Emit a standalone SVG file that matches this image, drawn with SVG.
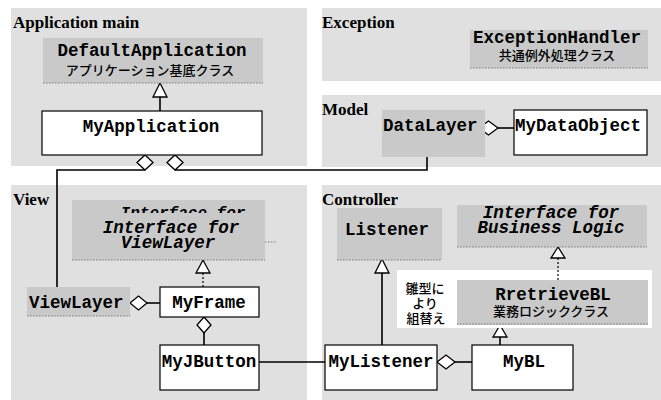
<svg xmlns="http://www.w3.org/2000/svg" width="661" height="400" viewBox="0 0 661 400">
<style>
.panel{fill:#e0e0e0}
.gbox{fill:#c9c9c9}
.shadow{stroke:#7a7a7a;stroke-width:1.2;stroke-dasharray:1.5,1.5;fill:none}
.wbox{fill:#ffffff;stroke:#000;stroke-width:1.2}
.lbl{font-family:"Liberation Serif","Times New Roman",serif;font-weight:bold;font-size:17px;fill:#000}
.cls{font-family:"Liberation Mono","Courier New",monospace;font-weight:bold;font-size:17.5px;fill:#000}
.itl{font-family:"Liberation Mono","Courier New",monospace;font-style:italic;font-weight:bold;font-size:17.5px;fill:#000}
.jp{font-family:"Noto Sans CJK JP",sans-serif;font-weight:500;font-size:13px;fill:#000}
.ln{stroke:#000;stroke-width:1.6;fill:none}
.dot{stroke:#000;stroke-width:1.2;stroke-dasharray:2,2;fill:none}
.tri{fill:#fff;stroke:#000;stroke-width:1.3}
.dia{fill:#fff;stroke:#000;stroke-width:1.3}
</style>
<defs>
<clipPath id="cut"><rect x="60" y="200" width="220" height="13"/></clipPath>
</defs>
<rect width="661" height="400" fill="#fff"/>
<g id="panels">
<rect class="panel" x="11" y="8" width="296" height="158"/>
<rect class="panel" x="322" y="8" width="339" height="73"/>
<rect class="panel" x="322" y="95" width="339" height="72"/>
<rect class="panel" x="11" y="185" width="296" height="215"/>
<rect class="panel" x="322" y="185" width="339" height="215"/>
<text class="lbl" x="13" y="28">Application main</text>
<text class="lbl" x="322" y="28">Exception</text>
<text class="lbl" x="322" y="115">Model</text>
<text class="lbl" x="13" y="205">View</text>
<text class="lbl" x="322" y="205">Controller</text>
</g>
<g id="connectors">
<polyline class="ln" points="57,288 57,170 145,170"/>
<polyline class="ln" points="175,170 427,170 427,157"/>
<line class="ln" x1="160" y1="97" x2="160" y2="111"/>
<polygon class="tri" points="160,83 153,97 167,97"/>
<polygon class="dia" points="145,155 153,162.5 145,170 137,162.5"/>
<polygon class="dia" points="175,155 183,162.5 175,170 167,162.5"/>
<line class="ln" x1="498" y1="128" x2="514" y2="128"/>
<polygon class="dia" points="479,128 488.5,121 498,128 488.5,135"/>
<line class="dot" x1="203" y1="273" x2="203" y2="287"/>
<polygon class="tri" points="203,260 196,273 210,273"/>
<line class="ln" x1="147" y1="303" x2="160" y2="303"/>
<polygon class="dia" points="130,303 138.5,296 147,303 138.5,310"/>
<line class="ln" x1="204" y1="333" x2="204" y2="345"/>
<polygon class="dia" points="204,317 211,325 204,333 197,325"/>
<line class="ln" x1="259" y1="362" x2="325" y2="362"/>
<line class="ln" x1="382" y1="273" x2="382" y2="345"/>
<polygon class="tri" points="382,259 375,273 389,273"/>
<line class="dot" x1="558" y1="258" x2="558" y2="280"/>
<polygon class="tri" points="558,247 551,258 565,258"/>
<line class="ln" x1="455" y1="362" x2="472" y2="362"/>
<polygon class="dia" points="437,362 446,355 455,362 446,369"/>
<line class="ln" x1="500" y1="337" x2="500" y2="345"/>
<polygon class="tri" points="500,325 493,337 507,337"/>
</g>
<g id="DefaultApplication">
<rect class="gbox" x="43" y="38" width="220" height="45"/>
<line class="shadow" x1="43" y1="83" x2="263" y2="83"/>
<text class="cls" x="152" y="56" text-anchor="middle">DefaultApplication</text>
<text class="jp" x="150" y="75" text-anchor="middle">アプリケーション基底クラス</text>
</g>
<g id="MyApplication">
<rect class="wbox" x="42" y="111" width="220" height="44"/>
<text class="cls" x="151" y="132" text-anchor="middle">MyApplication</text>
</g>
<g id="ExceptionHandler">
<rect class="gbox" x="470" y="30" width="178" height="38"/>
<line class="shadow" x1="470" y1="68" x2="648" y2="68"/>
<text class="cls" x="557" y="43" text-anchor="middle">ExceptionHandler</text>
<text class="jp" x="557" y="60" text-anchor="middle">共通例外処理クラス</text>
</g>
<g id="DataLayer">
<rect class="gbox" x="382" y="110" width="103" height="47"/>
<text class="cls" x="383" y="131">DataLayer</text>
</g>
<g id="MyDataObject">
<rect class="wbox" x="514" y="110" width="133" height="45"/>
<text class="cls" x="515" y="131">MyDataObject</text>
</g>
<g id="InterfaceViewLayer">
<rect class="gbox" x="72" y="200" width="193" height="60"/>
<line class="shadow" x1="72" y1="260" x2="265" y2="260"/>
<line class="shadow" x1="265" y1="242" x2="276" y2="242"/>
<text class="itl" x="183" y="218" text-anchor="middle" style="font-size:16px" clip-path="url(#cut)">Interface for</text>
<text class="itl" x="171" y="233" text-anchor="middle">Interface for</text>
<text class="itl" x="168" y="248" text-anchor="middle">ViewLayer</text>
</g>
<g id="ViewLayer">
<rect class="gbox" x="27" y="287" width="103" height="29"/>
<line class="shadow" x1="27" y1="316" x2="130" y2="316"/>
<text class="cls" x="29" y="308">ViewLayer</text>
</g>
<g id="MyFrame">
<rect class="wbox" x="160" y="287" width="99" height="30"/>
<text class="cls" x="209" y="308" text-anchor="middle">MyFrame</text>
</g>
<g id="MyJButton">
<rect class="wbox" x="160" y="345" width="99" height="45"/>
<text class="cls" x="209" y="367" text-anchor="middle">MyJButton</text>
</g>
<g id="Listener">
<rect class="gbox" x="337" y="208" width="105" height="52"/>
<line class="shadow" x1="337" y1="260" x2="442" y2="260"/>
<text class="cls" x="387" y="235" text-anchor="middle">Listener</text>
</g>
<g id="InterfaceBusinessLogic">
<rect class="gbox" x="457" y="205" width="190" height="42"/>
<line class="shadow" x1="457" y1="247" x2="647" y2="247"/>
<text class="itl" x="551" y="218" text-anchor="middle">Interface for</text>
<text class="itl" x="551" y="233" text-anchor="middle">Business Logic</text>
</g>
<g id="RretrieveBL">
<rect x="397" y="270" width="255" height="58" fill="#fff"/>
<line class="dot" x1="558" y1="270" x2="558" y2="280"/>
<rect class="gbox" x="457" y="280" width="191" height="45"/>
<line class="shadow" x1="457" y1="324" x2="648" y2="324"/>
<text class="cls" x="553" y="300" text-anchor="middle">RretrieveBL</text>
<text class="jp" x="551" y="316" text-anchor="middle">業務ロジッククラス</text>
</g>
<g id="note">
<text class="jp" x="425" y="293" text-anchor="middle">雛型に</text>
<text class="jp" x="425" y="308" text-anchor="middle">より</text>
<text class="jp" x="426" y="323" text-anchor="middle">組替え</text>
</g>
<g id="MyListener">
<rect class="wbox" x="325" y="345" width="112" height="45"/>
<text class="cls" x="381" y="367" text-anchor="middle">MyListener</text>
</g>
<g id="MyBL">
<rect class="wbox" x="472" y="345" width="101" height="45"/>
<text class="cls" x="524" y="367" text-anchor="middle">MyBL</text>
</g>
</svg>
